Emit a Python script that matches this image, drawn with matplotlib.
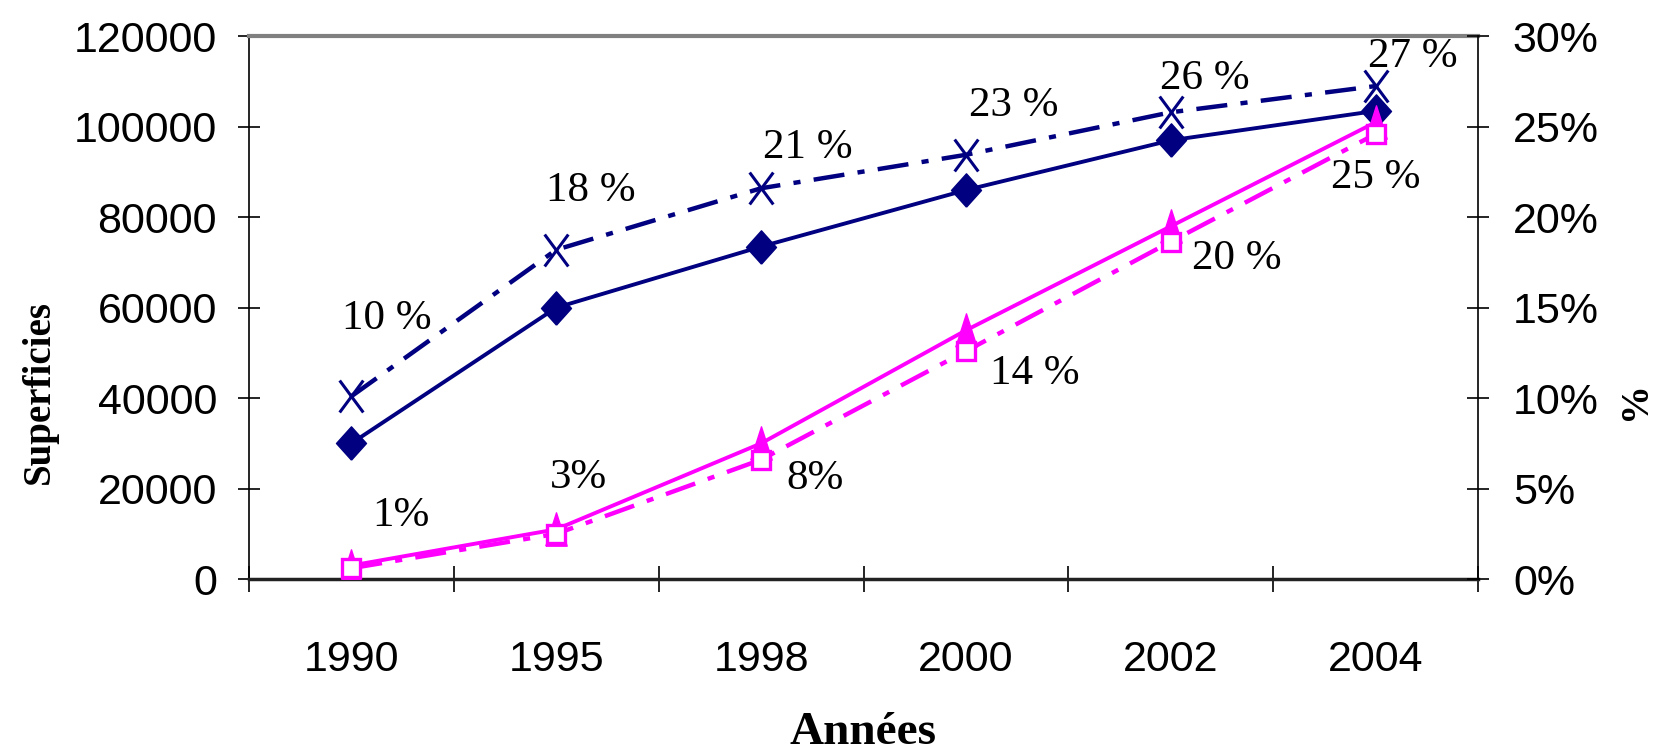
import matplotlib.pyplot as plt
import numpy as np
from matplotlib.path import Path
from matplotlib.ticker import PercentFormatter

# Données
annees = ['1990', '1995', '1998', '2000', '2002', '2004']
superficie_a = [30000, 60000, 73500, 86000, 97000, 103500]      # bleu, losanges
superficie_b = [3000, 11000, 30000, 55000, 78000, 101000]       # magenta, triangles
pct_a = [0.101, 0.182, 0.216, 0.2345, 0.258, 0.2725]            # bleu, croix
pct_b = [0.006, 0.025, 0.066, 0.126, 0.1865, 0.246]             # magenta, carrés
etiq_a = ['10 %', '18 %', '21 %', '23 %', '26 %', '27 %']
etiq_b = ['1%', '3%', '8%', '14 %', '20 %', '25 %']

# décalages des étiquettes (pixels)
dec_a = [(36, 78), (35, 59), (47, 41), (48, 49), (34, 34), (37, 29)]
dec_b = [(50, 52), (22, 56), (54, -19), (69, -23), (66, -17), (0, -44)]

bleu = '#000080'
magenta = '#FF00FF'

losange = [(0, -0.5), (0.45, 0), (0, 0.5), (-0.45, 0), (0, -0.5)]
triangle = [(-0.32, -0.5), (0.32, -0.5), (0, 0.5), (-0.32, -0.5)]
croix = Path([(-0.37, -0.5), (0.37, 0.5), (-0.37, 0.5), (0.37, -0.5)],
             [Path.MOVETO, Path.LINETO, Path.MOVETO, Path.LINETO])

x = np.arange(len(annees))

fig = plt.figure(figsize=(16.59, 7.56), dpi=100)
ax = fig.add_axes([0.150, 0.234, 0.741, 0.718])
ax2 = ax.twinx()
ax2.set_position([0.150, 0.234, 0.741, 0.718])

ax.plot(x, superficie_a, color=bleu, lw=2.8, marker=losange, ms=24,
        mfc=bleu, mec=bleu, zorder=3)
ax.plot(x, superficie_b, color=magenta, lw=2.8, marker=triangle, ms=24,
        mfc=magenta, mec=magenta, zorder=3)

l1, = ax2.plot(x, pct_a, color=bleu, lw=3.2, marker=croix, ms=23, mew=2.2,
               mec=bleu, zorder=4)
l1.set_dashes((7, 3, 1.6, 3))
l2, = ax2.plot(x, pct_b, color=magenta, lw=3.2, marker='s', ms=13, mew=2.4,
               mfc='white', mec=magenta, zorder=2)
l2.set_dashes((7, 3, 1.6, 3))

for i in range(len(x)):
    ax2.annotate(etiq_a[i], (x[i], pct_a[i]), xytext=dec_a[i],
                 textcoords='offset pixels', ha='center', va='center',
                 fontsize=31, family='Liberation Serif')
    ax2.annotate(etiq_b[i], (x[i], pct_b[i]), xytext=dec_b[i],
                 textcoords='offset pixels', ha='center', va='center',
                 fontsize=31, family='Liberation Serif')

ax.set_xlim(-0.5, 5.5)
ax.set_ylim(0, 120000)
ax2.set_ylim(0, 0.30)

ax.set_xticks(x, labels=annees)
ax.set_xticks(np.arange(-0.5, 6, 1), minor=True)
ax.tick_params(axis='x', which='major', length=0, pad=44, labelsize=31)
ax.tick_params(axis='x', which='minor', direction='inout', length=19, width=1.2)
ax.set_yticks(np.arange(0, 120001, 20000))
ax.tick_params(axis='y', direction='inout', length=16, width=1.2, pad=15,
               labelsize=31)
ax2.set_yticks(np.arange(0, 0.301, 0.05))
ax2.yaxis.set_major_formatter(PercentFormatter(1.0, decimals=0))
ax2.tick_params(axis='y', direction='inout', length=16, width=1.2, pad=17,
                labelsize=31)
for lab in ax.get_xticklabels() + ax.get_yticklabels() + ax2.get_yticklabels():
    lab.set_family('Liberation Sans')

ax.spines['top'].set_color('#808080')
ax.spines['top'].set_linewidth(3)
ax.spines['bottom'].set_color('#222222')
ax.spines['bottom'].set_linewidth(2.5)
ax.spines['left'].set_linewidth(1.2)
ax.spines['right'].set_visible(False)
for s in ['top', 'bottom', 'left']:
    ax2.spines[s].set_visible(False)
ax2.spines['right'].set_linewidth(1.2)

fig.text(0.024, 0.481, 'Superficies', rotation=90, ha='center', va='center',
         fontsize=28, fontweight='bold', family='Liberation Serif')
fig.text(0.986, 0.470, '%', rotation=90, ha='center', va='center',
         fontsize=28, fontweight='bold', family='Liberation Serif')
fig.text(0.520, 0.030, 'Années', ha='center', va='center',
         fontsize=34, fontweight='bold', family='Liberation Serif')

plt.savefig('out.png', dpi=100)
